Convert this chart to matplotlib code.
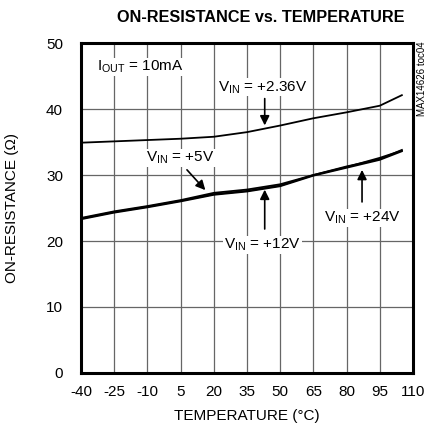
import matplotlib
matplotlib.use("Agg")
import matplotlib.pyplot as plt

plt.rcParams['font.family'] = ['Liberation Sans', 'DejaVu Sans']
plt.rcParams['mathtext.fontset'] = 'custom'
plt.rcParams['mathtext.rm'] = 'Liberation Sans'
plt.rcParams['axes.unicode_minus'] = False

temp = [-40, -25, -10, 5, 20, 35, 50, 65, 80, 95, 105]
r_236 = [34.9, 35.1, 35.3, 35.5, 35.8, 36.5, 37.5, 38.6, 39.5, 40.5, 42.1]
r_5 = [23.5, 24.5, 25.3, 26.2, 27.3, 27.8, 28.6, 30.0, 31.3, 32.4, 33.8]
r_12 = [23.4, 24.4, 25.2, 26.1, 27.1, 27.6, 28.4, 30.0, 31.2, 32.6, 33.7]
r_24 = [23.3, 24.3, 25.1, 26.0, 27.0, 27.5, 28.3, 29.9, 31.1, 32.3, 33.6]
xticks = [-40, -25, -10, 5, 20, 35, 50, 65, 80, 95, 110]
yticks = [0, 10, 20, 30, 40, 50]

fig = plt.figure(figsize=(4.27, 4.37), dpi=100)
ax = fig.add_axes([0.19, 0.1465, 0.777, 0.755])
ax.set_xlim(-40, 110)
ax.set_ylim(0, 50)
ax.set_xticks(xticks)
ax.set_yticks(yticks)
ax.tick_params(length=0, labelsize=11)
ax.tick_params(axis='x', pad=9)
ax.tick_params(axis='y', pad=13)
ax.grid(True, color='#666666', lw=0.9)
for s in ax.spines.values():
    s.set_linewidth(2.2)

for r in (r_236, r_5, r_12, r_24):
    ax.plot(temp, r, color='black', lw=1.3)

fig.text(261 / 427, 1 - 17 / 437, 'ON-RESISTANCE vs. TEMPERATURE', fontsize=11.7,
         fontweight='bold', ha='center', va='center')
ax.set_xlabel('TEMPERATURE (°C)', fontsize=11, va='center')
ax.xaxis.set_label_coords(0.5, -0.13)
ax.set_ylabel('ON-RESISTANCE (Ω)', fontsize=11, va='center')
ax.yaxis.set_label_coords(-0.208, 0.5)

fs = 11
box = dict(fc='white', ec='none', pad=0.5)
arrow = dict(arrowstyle='-|>', color='black', lw=1.2, mutation_scale=14)
ax.text(-33, 46.4, r'I$_\mathregular{OUT}$ = 10mA', fontsize=fs, va='center', ha='left', bbox=box)
ax.text(42, 43.3, r'V$_\mathregular{IN}$ = +2.36V', fontsize=fs, va='center', ha='center', bbox=box)
ax.annotate('', xy=(43, 37.1), xytext=(43, 42.0), arrowprops=arrow)
ax.text(5, 32.6, r'V$_\mathregular{IN}$ = +5V', fontsize=fs, va='center', ha='center', bbox=box)
ax.annotate('', xy=(17, 27.4), xytext=(7, 31.1), arrowprops=arrow)
ax.text(42, 19.4, r'V$_\mathregular{IN}$ = +12V', fontsize=fs, va='center', ha='center', bbox=box)
ax.annotate('', xy=(43, 28.2), xytext=(43, 21.4), arrowprops=arrow)
ax.text(87, 23.5, r'V$_\mathregular{IN}$ = +24V', fontsize=fs, va='center', ha='center', bbox=box)
ax.annotate('', xy=(87, 31.2), xytext=(87, 25.5), arrowprops=arrow)

fig.text(422 / 427, 1 - 79 / 437, 'MAX14626 toc04', rotation=90, fontsize=7, ha='center', va='center')

fig.savefig('out.png', dpi=100)
